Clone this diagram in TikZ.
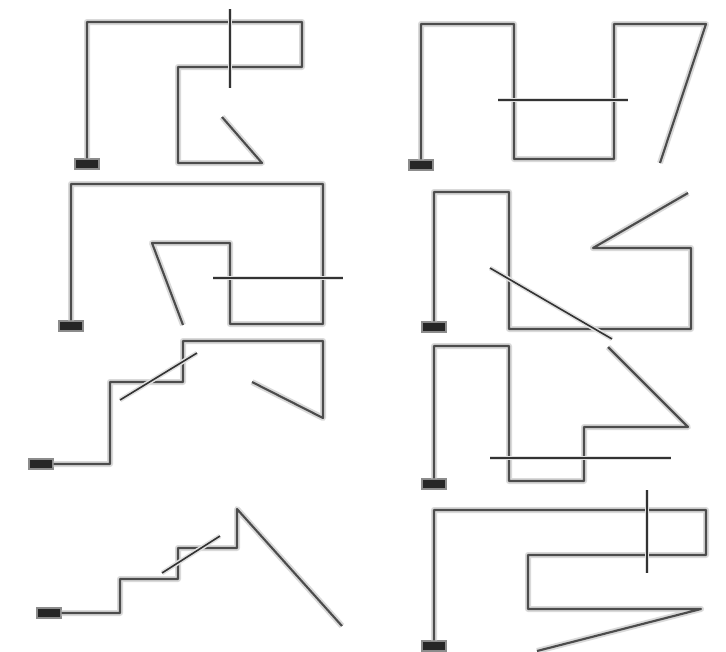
\documentclass[tikz,border=0pt]{standalone}

\begin{document}
\begin{tikzpicture}[
    x=0.75pt, y=-0.75pt,
    wire/.style={draw=black!70, line width=1.6pt, line join=round, preaction={draw=black!15, line width=4.5pt, line join=round}},
    bar/.style={draw=black!80, line width=1.2pt, preaction={draw=black!12, line width=3.5pt}},
    base/.style={fill=black!85, draw=black!45, line width=0.8pt, inner sep=0pt, minimum width=18pt, minimum height=7.5pt}
  ]
  \useasboundingbox (0,0) rectangle (726,651);

  % left column
  \node[base] (base1) at (87,164) {};
  \draw[wire] (base1.north) |- (302,22) |- (178,67) |- (262,163) -- (222,117);
  \draw[bar] (230,9) -- (230,88);

  \node[base] (base3) at (71,326) {};
  \draw[wire] (base3.north) |- (323,184) |- (230,324) |- (152,243) -- (183,325);
  \draw[bar] (213,278) -- (343,278);

  \node[base] (base5) at (41,464) {};
  \draw[wire] (base5.east) -| (110,382) -| (183,341) -| (323,418) -- (252,382);
  \draw[bar] (120,400) -- (197,353);

  \node[base] (base7) at (49,613) {};
  \draw[wire] (base7.east) -| (120,579) -| (178,548) -| (237,509) -- (342,626);
  \draw[bar] (162,573) -- (220,536);

  % right column
  \node[base] (base2) at (421,165) {};
  \draw[wire] (base2.north) |- (514,24) |- (614,159) |- (706,24) -- (660,163);
  \draw[bar] (498,100) -- (628,100);

  \node[base] (base4) at (434,327) {};
  \draw[wire] (base4.north) |- (509,192) |- (691,329) |- (593,248) -- (688,193);
  \draw[bar] (490,268) -- (612,339);

  \node[base] (base6) at (434,484) {};
  \draw[wire] (base6.north) |- (509,346) |- (584,481) |- (688,427) -- (608,347);
  \draw[bar] (490,458) -- (671,458);

  \node[base] (base8) at (434,646) {};
  \draw[wire] (base8.north) |- (706,510) |- (528,555) |- (701,609) -- (537,651);
  \draw[bar] (647,490) -- (647,573);
\end{tikzpicture}
\end{document}
